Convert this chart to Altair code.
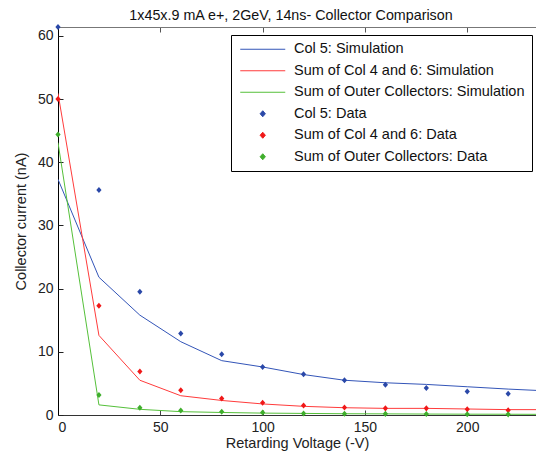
import altair as alt
import pandas as pd

# ---- data ----
voltage_sim = [0, 20, 40, 60, 80, 100, 120, 140, 160, 180, 200, 220, 240]
col5_sim = [37.3, 21.8, 15.8, 11.6, 8.6, 7.6, 6.4, 5.5, 5.1, 4.84, 4.47, 4.1, 3.8]
col46_sim = [50.9, 12.6, 5.5, 3.05, 2.3, 1.75, 1.37, 1.15, 1.05, 1.05, 0.95, 0.85, 0.85]
outer_sim = [43.1, 1.6, 0.9, 0.53, 0.4, 0.3, 0.25, 0.2, 0.18, 0.15, 0.13, 0.12, 0.1]

voltage_data = [0, 20, 40, 60, 80, 100, 120, 140, 160, 180, 200, 220]
col5_data = [61.4, 35.6, 19.5, 12.9, 9.6, 7.6, 6.46, 5.5, 4.8, 4.26, 3.73, 3.37]
col46_data = [50.0, 17.3, 6.9, 3.9, 2.6, 1.95, 1.5, 1.2, 1.05, 1.05, 0.9, 0.75]
outer_data = [44.4, 3.15, 1.15, 0.7, 0.5, 0.38, 0.25, 0.2, 0.18, 0.15, 0.13, 0.1]

series_names = [
    "Col 5: Simulation",
    "Sum of Col 4 and 6: Simulation",
    "Sum of Outer Collectors: Simulation",
    "Col 5: Data",
    "Sum of Col 4 and 6: Data",
    "Sum of Outer Collectors: Data",
]
series_colors = ["#3355b8", "#ff3b3b", "#55c03a", "#2a48a8", "#f01818", "#3fae2c"]

x_ticks = [0, 50, 100, 150, 200]
y_ticks = [0, 10, 20, 30, 40, 50, 60]

title_text = "1x45x.9 mA e+, 2GeV, 14ns- Collector Comparison"
x_title = "Retarding Voltage (-V)"
y_title = "Collector current (nA)"

# ---- tables ----
sim_rows = []
for name, vals in zip(series_names[:3], [col5_sim, col46_sim, outer_sim]):
    for v, c in zip(voltage_sim, vals):
        sim_rows.append({"voltage": v, "current": c, "series": name})
sim_df = pd.DataFrame(sim_rows)

data_rows = []
for name, vals in zip(series_names[3:], [col5_data, col46_data, outer_data]):
    for v, c in zip(voltage_data, vals):
        data_rows.append({"voltage": v, "current": c, "series": name})
data_df = pd.DataFrame(data_rows)

W, H = 478, 388
FONT = "Liberation Sans"
LINE_PATH = "M-5,0H5"
DIAMOND_PATH = "M0,-0.67L0.58,0L0,0.67L-0.58,0Z"
SYM_SIZE = 81

x_scale = alt.Scale(domain=[0, 233.6], nice=False, zero=False)
y_scale = alt.Scale(domain=[0, 61.4], nice=False)
color_scale = alt.Scale(domain=series_names, range=series_colors)
shape_scale = alt.Scale(domain=series_names,
                        range=[LINE_PATH] * 3 + [DIAMOND_PATH] * 3)

legend = alt.Legend(
    title=None, orient="none", legendX=173, legendY=8,
    padding=7, rowPadding=6.5, labelOffset=24, symbolOffset=17.5,
    symbolSize=SYM_SIZE, symbolStrokeWidth=1, symbolOpacity=1,
    strokeColor="black", fillColor="white", cornerRadius=0,
    labelFont=FONT, labelFontSize=14.5, labelColor="#111", labelLimit=400,
)

lines = alt.Chart(sim_df).mark_line(strokeWidth=1, clip=True).encode(
    x=alt.X("voltage:Q", scale=x_scale, axis=alt.Axis(
        orient="bottom", values=x_ticks, ticks=False, grid=False,
        domainColor="#333", labelFont=FONT, labelFontSize=14, labelColor="#222",
        labelPadding=5, title=x_title, titleFont=FONT, titleFontSize=14.5,
        titleFontWeight="normal", titleColor="#222", titlePadding=2)),
    y=alt.Y("current:Q", scale=y_scale, axis=alt.Axis(
        orient="left", values=y_ticks, ticks=False, grid=False,
        domainColor="black", labelFont=FONT, labelFontSize=14, labelColor="#222",
        labelPadding=5, title=y_title, titleFont=FONT, titleFontSize=14.5,
        titleFontWeight="normal", titleColor="#222", titlePadding=9)),
    color=alt.Color("series:N", scale=color_scale, legend=legend),
    detail="series:N",
)

points = alt.Chart(data_df).mark_point(filled=True, opacity=1, size=SYM_SIZE,
                                       strokeWidth=0).encode(
    x=alt.X("voltage:Q", scale=x_scale, axis=alt.Axis(
        orient="bottom", offset=-H, values=x_ticks, labels=False, ticks=True,
        tickSize=5, tickColor="#555", domainColor="#777", grid=False, title=None)),
    y=alt.Y("current:Q", scale=y_scale, axis=alt.Axis(
        orient="right", offset=-W, values=y_ticks, labels=False, ticks=True,
        tickSize=5, tickColor="#222", domain=False, grid=False, title=None)),
    color=alt.Color("series:N", scale=color_scale, legend=legend),
    shape=alt.Shape("series:N", scale=shape_scale, legend=legend),
)

ticks_bottom = alt.Chart(data_df).mark_point(opacity=0).encode(
    x=alt.X("voltage:Q", scale=x_scale, axis=alt.Axis(
        orient="top", offset=-H, values=x_ticks, labels=False, ticks=True,
        tickSize=5, tickColor="#444", domain=False, grid=False, title=None)),
    y=alt.Y("current:Q", scale=y_scale, axis=None),
)

chart = alt.layer(lines, points, ticks_bottom).resolve_axis(
    x="independent", y="independent"
).properties(
    width=W, height=H,
    title=alt.TitleParams(title_text, font=FONT, fontSize=14.3, fontWeight="normal",
                          color="#111", anchor="middle", offset=1, dx=-6),
    autosize=alt.AutoSizeParams(type="none"),
    padding={"left": 50, "top": 19, "right": 0, "bottom": 36},
).configure_view(stroke=None)

chart.save("out.html", embed_options={"renderer": "svg", "actions": False})
